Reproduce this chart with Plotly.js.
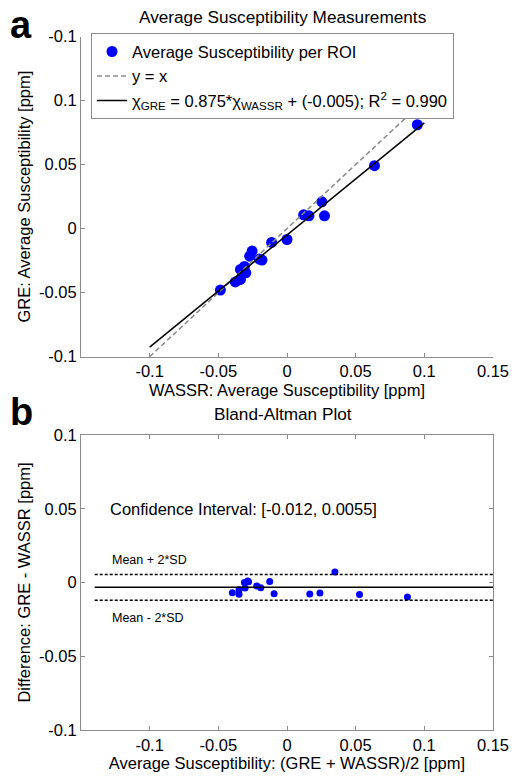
<!DOCTYPE html>
<html><head><meta charset="utf-8">
<script src="https://cdn.plot.ly/plotly-3.0.1.min.js"></script>
<style>html,body{margin:0;padding:0;background:#fff}#chart{width:518px;height:780px}</style>
</head><body><div id="chart"></div>
<script>
// ---- Panel a: average susceptibility per ROI ----
const wassr = [0.0949, 0.0637, 0.0254, 0.0273, 0.0121, 0.0160, 0.0000, -0.0112, -0.0254, -0.0272, -0.0201, -0.0182, -0.0339, -0.0310, -0.0300, -0.0376, -0.0339, -0.0485];
const gre   = [0.0811, 0.0491, 0.0209, 0.0100, 0.0108, 0.0100, -0.0085, -0.0108, -0.0175, -0.0215, -0.0238, -0.0246, -0.0319, -0.0295, -0.0345, -0.0416, -0.0397, -0.0480];
const fitSlope = 0.875;
const fitIntercept = -0.005;
const lineX = [-0.1, 0.1];

// ---- Panel b: Bland-Altman ----
const baMean = [-0.0398, -0.0349, -0.0349, -0.0305, -0.0310, -0.0286, -0.0280, -0.0220, -0.0191, -0.0126, -0.0094, 0.0166, 0.0240, 0.0349, 0.0528, 0.0877];
const baDiff = [-0.0069, -0.0049, -0.0080, -0.0037, 0.0000, 0.0010, 0.0005, -0.0024, -0.0035, 0.0006, -0.0076, -0.0078, -0.0071, 0.0072, -0.0082, -0.0099];
const meanDiff = -0.0033;
const ciLower = -0.012;
const ciUpper = 0.0055;
const baLineX = [-0.14, 0.15];

// ---- ticks ----
const xTickVals = [-0.1, -0.05, 0, 0.05, 0.1, 0.15];
const xTickText = ['-0.1', '-0.05', '0', '0.05', '0.1', '0.15'];
const yTopTickVals = [-0.1, -0.05, 0, 0.05, 0.1, 0.15];
const yTopTickText = ['-0.1', '-0.05', '0', '0.05', '0.1', '-0.1'];
const yBotTickVals = [-0.1, -0.05, 0, 0.05, 0.1];
const yBotTickText = ['-0.1', '-0.05', '0', '0.05', '0.1'];

const FONT = 'Liberation Sans, Arial, Helvetica, sans-serif';
const AX = '#8c8c8c';

const traces = [
  {x: wassr, y: gre, type: 'scatter', mode: 'markers', xaxis: 'x', yaxis: 'y',
   name: 'Average Susceptibility per ROI', marker: {color: '#0000ff', size: 11}},
  {x: lineX, y: lineX, type: 'scatter', mode: 'lines', xaxis: 'x', yaxis: 'y',
   name: 'y = x', line: {color: '#888888', width: 1.5, dash: '5px,3px'}},
  {x: lineX, y: lineX.map(v => fitSlope * v + fitIntercept), type: 'scatter', mode: 'lines', xaxis: 'x', yaxis: 'y',
   name: 'χ<sub>GRE</sub> = 0.875*χ<sub>WASSR</sub> + (-0.005); R<sup>2</sup> = 0.990',
   line: {color: '#000000', width: 1.5}},
  {x: baMean, y: baDiff, type: 'scatter', mode: 'markers', xaxis: 'x2', yaxis: 'y2',
   showlegend: false, marker: {color: '#0000ff', size: 7}},
  {x: baLineX, y: [meanDiff, meanDiff], type: 'scatter', mode: 'lines', xaxis: 'x2', yaxis: 'y2',
   showlegend: false, line: {color: '#000', width: 1.5}},
  {x: baLineX, y: [ciUpper, ciUpper], type: 'scatter', mode: 'lines', xaxis: 'x2', yaxis: 'y2',
   showlegend: false, line: {color: '#000', width: 1.5, dash: '3px,2px'}},
  {x: baLineX, y: [ciLower, ciLower], type: 'scatter', mode: 'lines', xaxis: 'x2', yaxis: 'y2',
   showlegend: false, line: {color: '#000', width: 1.5, dash: '3px,2px'}}
];

const baseAxis = {
  showgrid: false, zeroline: false, showline: true, linecolor: AX, linewidth: 1,
  ticks: 'inside', ticklen: 4, tickcolor: AX, tickwidth: 1,
  tickfont: {family: FONT, size: 16.5, color: '#000'}
};

const layout = {
  width: 518, height: 780,
  margin: {l: 81, r: 25, t: 0, b: 50, pad: 0},
  paper_bgcolor: '#fff', plot_bgcolor: '#fff',
  font: {family: FONT, size: 16.5, color: '#000'},
  showlegend: true,
  legend: {x: 0.0243, y: 0.9544, xanchor: 'left', yanchor: 'top', bgcolor: '#fff',
           bordercolor: AX, borderwidth: 1, font: {family: FONT, size: 16.5, color: '#000'},
           itemwidth: 30, tracegroupgap: 0},
  xaxis: Object.assign({}, baseAxis, {anchor: 'y', domain: [0, 1], range: [-0.15, 0.15],
    tickvals: xTickVals, ticktext: xTickText,
    title: {text: 'WASSR: Average Susceptibility [ppm]', standoff: 4, font: {family: FONT, size: 16.5}}}),
  yaxis: Object.assign({}, baseAxis, {anchor: 'x', domain: [0.5114, 0.95], range: [-0.1, 0.15],
    tickvals: yTopTickVals, ticktext: yTopTickText,
    title: {text: 'GRE: Average Susceptibility [ppm]', standoff: 4, font: {family: FONT, size: 16.5}}}),
  xaxis2: Object.assign({}, baseAxis, {anchor: 'y2', domain: [0, 1], range: [-0.15, 0.15], mirror: 'ticks',
    tickvals: xTickVals, ticktext: xTickText,
    title: {text: 'Average Susceptibility: (GRE + WASSR)/2 [ppm]', standoff: 4, font: {family: FONT, size: 16.5}}}),
  yaxis2: Object.assign({}, baseAxis, {anchor: 'x2', domain: [0, 0.4041], range: [-0.1, 0.1], mirror: 'ticks',
    tickvals: yBotTickVals, ticktext: yBotTickText,
    title: {text: 'Difference: GRE - WASSR [ppm]', standoff: 4, font: {family: FONT, size: 16.5}}}),
  annotations: [
    {text: 'Average Susceptibility Measurements', xref: 'paper', yref: 'paper', x: 0.49, y: (730 - 16.5) / 730,
     xanchor: 'center', yanchor: 'middle', showarrow: false, font: {family: FONT, size: 17.2}},
    {text: 'Bland-Altman Plot', xref: 'paper', yref: 'paper', x: 0.49, y: (730 - 414) / 730,
     xanchor: 'center', yanchor: 'middle', showarrow: false, font: {family: FONT, size: 17.2}},
    {text: '<b>a</b>', xref: 'paper', yref: 'paper', x: (21 - 81) / 412, y: (730 - 25) / 730,
     xanchor: 'center', yanchor: 'middle', showarrow: false, font: {family: FONT, size: 38}},
    {text: '<b>b</b>', xref: 'paper', yref: 'paper', x: (21 - 81) / 412, y: (730 - 412) / 730,
     xanchor: 'center', yanchor: 'middle', showarrow: false, font: {family: FONT, size: 38}},
    {text: 'Confidence Interval: [-0.012, 0.0055]', xref: 'x2', yref: 'y2', x: -0.13, y: 0.05,
     xanchor: 'left', yanchor: 'middle', showarrow: false, font: {family: FONT, size: 16.5}},
    {text: 'Mean + 2*SD', xref: 'x2', yref: 'y2', x: -0.129, y: 0.015,
     xanchor: 'left', yanchor: 'middle', showarrow: false, font: {family: FONT, size: 12.5}},
    {text: 'Mean - 2*SD', xref: 'x2', yref: 'y2', x: -0.129, y: -0.0244,
     xanchor: 'left', yanchor: 'middle', showarrow: false, font: {family: FONT, size: 12.5}}
  ]
};

Plotly.newPlot('chart', traces, layout, {displayModeBar: false, staticPlot: true});
</script>
</body></html>
